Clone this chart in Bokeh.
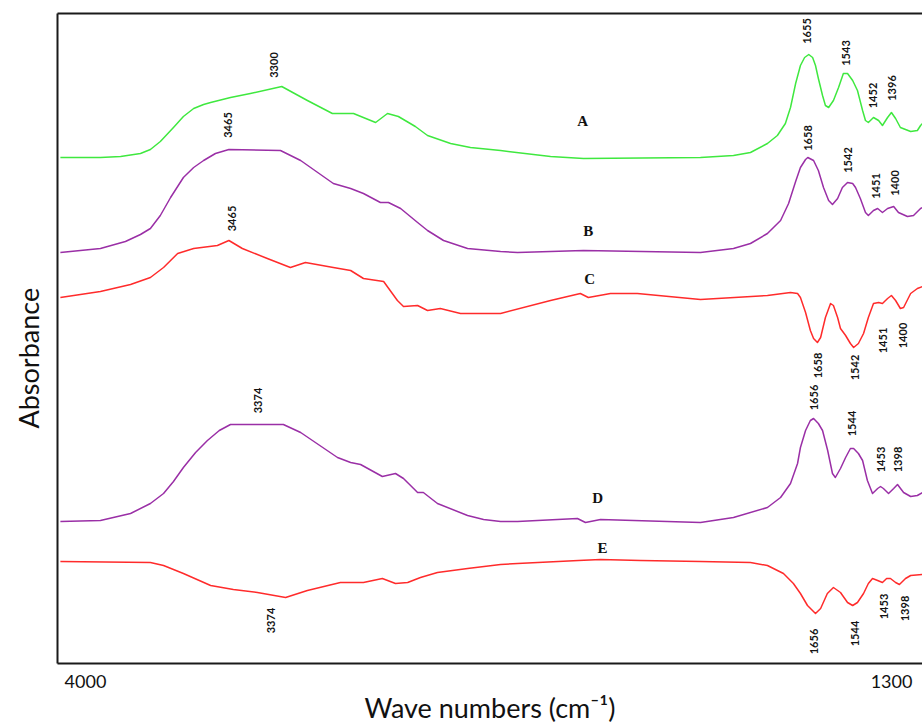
from bokeh.plotting import figure
from bokeh.models import Range1d, FixedTicker, LinearAxis, ColumnDataSource, Title
from bokeh.core.properties import value
from bokeh.embed import file_html
from bokeh.resources import INLINE
import math

# ---------------- data (wavenumber cm-1, absorbance offset, arbitrary units) -------------
A_wn = [3991, 3866, 3803, 3741, 3710, 3679, 3638, 3607, 3575, 3544, 3522, 3460, 3398, 3300,
        3220, 3142, 3076, 3007, 2970, 2936, 2883, 2845, 2773, 2711, 2617, 2461, 2358, 1993,
        1890, 1837, 1784, 1753, 1728, 1712, 1696, 1681, 1668, 1655, 1643, 1634, 1625, 1612,
        1603, 1593, 1578, 1562, 1547, 1534, 1518, 1503, 1487, 1478, 1469, 1453, 1437, 1425,
        1409, 1397, 1384, 1369, 1337, 1316, 1306, 1300]
A_abs = [5.06, 5.06, 5.07, 5.10, 5.14, 5.22, 5.36, 5.47, 5.55, 5.59, 5.61, 5.66, 5.70, 5.77,
         5.63, 5.50, 5.50, 5.41, 5.50, 5.47, 5.37, 5.28, 5.20, 5.16, 5.13, 5.07, 5.05, 5.06,
         5.08, 5.11, 5.20, 5.28, 5.40, 5.56, 5.80, 5.98, 6.06, 6.09, 6.06, 5.98, 5.85, 5.68,
         5.58, 5.56, 5.63, 5.76, 5.90, 5.90, 5.83, 5.73, 5.53, 5.43, 5.41, 5.46, 5.43, 5.38,
         5.46, 5.51, 5.45, 5.36, 5.32, 5.33, 5.38, 5.40]

B_wn = [3991, 3866, 3788, 3741, 3710, 3679, 3647, 3607, 3575, 3544, 3507, 3465, 3304, 3241,
        3139, 3085, 3045, 2992, 2967, 2929, 2876, 2845, 2795, 2720, 2617, 2564, 2358, 1993,
        1890, 1837, 1784, 1743, 1718, 1696, 1681, 1665, 1658, 1640, 1625, 1609, 1593, 1581,
        1565, 1550, 1534, 1518, 1509, 1494, 1478, 1469, 1453, 1440, 1425, 1409, 1390, 1375,
        1347, 1328, 1306, 1300]
B_abs = [4.11, 4.15, 4.22, 4.29, 4.35, 4.48, 4.66, 4.86, 4.96, 5.03, 5.10, 5.14, 5.13, 5.03,
         4.80, 4.75, 4.70, 4.61, 4.61, 4.55, 4.41, 4.33, 4.23, 4.15, 4.12, 4.11, 4.13, 4.11,
         4.15, 4.20, 4.30, 4.43, 4.60, 4.82, 4.96, 5.04, 5.06, 5.03, 4.93, 4.76, 4.63, 4.59,
         4.65, 4.76, 4.81, 4.80, 4.76, 4.65, 4.51, 4.48, 4.53, 4.55, 4.51, 4.55, 4.57, 4.51,
         4.47, 4.48, 4.55, 4.56]

C_wn = [3991, 3866, 3772, 3710, 3669, 3625, 3575, 3501, 3465, 3423, 3345, 3273, 3226, 3139,
        3085, 3045, 2982, 2939, 2920, 2876, 2845, 2805, 2742, 2617, 2461, 2368, 2343, 2274,
        2190, 1993, 1784, 1712, 1690, 1681, 1665, 1650, 1640, 1628, 1618, 1603, 1587, 1578,
        1565, 1556, 1540, 1525, 1515, 1500, 1484, 1469, 1453, 1437, 1425, 1409, 1397, 1384,
        1369, 1359, 1337, 1316, 1300]
C_abs = [3.66, 3.72, 3.79, 3.86, 3.96, 4.10, 4.15, 4.18, 4.23, 4.15, 4.05, 3.96, 4.01, 3.96,
         3.93, 3.85, 3.82, 3.63, 3.57, 3.58, 3.53, 3.55, 3.50, 3.50, 3.63, 3.70, 3.66, 3.70,
         3.70, 3.64, 3.68, 3.71, 3.70, 3.66, 3.51, 3.33, 3.25, 3.21, 3.26, 3.46, 3.60, 3.58,
         3.46, 3.35, 3.28, 3.20, 3.16, 3.20, 3.30, 3.46, 3.60, 3.61, 3.60, 3.65, 3.68, 3.63,
         3.55, 3.56, 3.70, 3.75, 3.77]

D_wn = [3991, 3866, 3772, 3710, 3669, 3638, 3607, 3569, 3532, 3495, 3460, 3295, 3241, 3126,
        3085, 3054, 2986, 2945, 2920, 2876, 2858, 2814, 2720, 2670, 2617, 2564, 2377, 2352,
        2305, 1993, 1890, 1784, 1743, 1712, 1690, 1681, 1665, 1650, 1640, 1625, 1612, 1596,
        1581, 1572, 1556, 1540, 1525, 1515, 1500, 1487, 1472, 1456, 1440, 1431, 1422, 1406,
        1390, 1378, 1359, 1337, 1316, 1300]
D_abs = [1.42, 1.43, 1.50, 1.60, 1.70, 1.82, 1.96, 2.11, 2.23, 2.33, 2.39, 2.39, 2.31, 2.06,
         2.01, 1.99, 1.87, 1.90, 1.85, 1.71, 1.71, 1.60, 1.48, 1.44, 1.42, 1.42, 1.45, 1.41,
         1.44, 1.41, 1.46, 1.56, 1.66, 1.80, 2.00, 2.16, 2.33, 2.43, 2.45, 2.40, 2.33, 2.13,
         1.90, 1.86, 1.95, 2.06, 2.15, 2.15, 2.10, 2.03, 1.83, 1.70, 1.75, 1.77, 1.75, 1.70,
         1.75, 1.79, 1.71, 1.67, 1.68, 1.71]

E_wn = [3991, 3710, 3669, 3607, 3522, 3451, 3376, 3288, 3220, 3117, 3045, 2986, 2945, 2907,
        2867, 2814, 2720, 2617, 2564, 2374, 2305, 2180, 1993, 1837, 1784, 1734, 1703, 1681,
        1659, 1634, 1618, 1597, 1578, 1556, 1534, 1518, 1503, 1484, 1469, 1456, 1440, 1425,
        1412, 1400, 1384, 1372, 1353, 1337, 1300]
E_abs = [1.02, 1.01, 0.98, 0.90, 0.78, 0.74, 0.71, 0.66, 0.73, 0.81, 0.81, 0.85, 0.80, 0.81,
         0.86, 0.91, 0.95, 0.99, 1.00, 1.03, 1.04, 1.03, 1.02, 1.01, 0.98, 0.90, 0.80, 0.70,
         0.58, 0.50, 0.55, 0.70, 0.76, 0.71, 0.61, 0.58, 0.61, 0.70, 0.80, 0.85, 0.83, 0.81,
         0.85, 0.85, 0.81, 0.79, 0.85, 0.88, 0.89]

# peak annotations: text, position (wavenumber, absorbance)
A_peak_text = ["3300", "1655", "1543", "1452", "1396"]
A_peak_x = [3323, 1662, 1540, 1456, 1394]
A_peak_y = [5.985, 6.325, 6.105, 5.68, 5.755]

B_peak_text = ["3465", "1658", "1542", "1451", "1400"]
B_peak_x = [3469, 1656, 1531, 1444, 1387]
B_peak_y = [5.385, 5.255, 5.035, 4.775, 4.805]

C_peak_text = ["3465", "1658", "1542", "1451", "1400"]
C_peak_x = [3454, 1625, 1512, 1422, 1362]
C_peak_y = [4.45, 2.98, 2.96, 3.23, 3.28]

D_peak_text = ["3374", "1656", "1544", "1453", "1398"]
D_peak_x = [3373, 1640, 1519, 1431, 1378]
D_peak_y = [2.63, 2.66, 2.40, 2.04, 2.04]

E_peak_text = ["3374", "1656", "1544", "1453", "1398"]
E_peak_x = [3335, 1640, 1512, 1419, 1356]
E_peak_y = [0.43, 0.22, 0.30, 0.57, 0.55]

curve_names = ["A", "B", "C", "D", "E"]
name_x = [2361, 2343, 2339, 2314, 2299]
name_y = [5.43, 4.33, 3.85, 1.66, 1.16]

tick_values = [4000, 1300]
tick_labels = {4000: "4000", 1300: "1300"}

# ---------------- figure ----------------
GREEN = "#3fe83f"
PURPLE = "#9a2fa6"
RED = "#ff2b2b"
INK = "#1a1a1a"

p = figure(width=922, height=728, x_range=Range1d(4000, 1300), y_range=Range1d(0, 6.5),
           output_backend="svg", toolbar_location=None, x_axis_location=None,
           min_border_left=57, min_border_right=0, min_border_top=13, min_border_bottom=65)
p.outline_line_color = None
p.grid.visible = False
p.background_fill_color = "white"
p.border_fill_color = "white"

# left border (no ticks)
ya = p.yaxis[0]
ya.ticker = FixedTicker(ticks=[])
ya.axis_line_width = 2
ya.axis_line_color = INK
ya.major_tick_line_color = None
ya.minor_tick_line_color = None

# y title
p.add_layout(Title(text="Absorbance", align="left", offset=235, standoff=21,
                   vertical_align="top",
                   text_font="Lato", text_font_style="normal", text_font_size="27px",
                   text_color="#111111"), "left")

# bottom axis: the end labels of the wavenumber scale sit slightly inside the frame
p.extra_x_ranges = {"ends": Range1d(4093.8, 1196.2)}
xa = LinearAxis(x_range_name="ends", ticker=FixedTicker(ticks=tick_values),
                major_label_overrides=tick_labels,
                axis_line_width=2, axis_line_color=INK,
                major_tick_line_color=None, minor_tick_line_color=None,
                major_tick_in=0, major_tick_out=0, major_label_standoff=11,
                major_label_text_font="Lato", major_label_text_font_size="18px",
                major_label_text_color="#111111",
                axis_label="Wave numbers (cm\u207b\u00b9)", axis_label_standoff=0,
                axis_label_text_font="Lato", axis_label_text_font_style="normal",
                axis_label_text_font_size="27px", axis_label_text_color="#111111")
p.add_layout(xa, "below")

# top border
top_axis = LinearAxis(ticker=FixedTicker(ticks=[]), axis_line_width=2, axis_line_color=INK,
                      major_tick_line_color=None, minor_tick_line_color=None,
                      major_label_text_font_size="0px")
p.add_layout(top_axis, "above")

# curves
for xs, ys, col in [(A_wn, A_abs, GREEN), (B_wn, B_abs, PURPLE), (C_wn, C_abs, RED),
                    (D_wn, D_abs, PURPLE), (E_wn, E_abs, RED)]:
    p.line(xs, ys, line_color=col, line_width=1.5, line_join="round")

# peak labels
for tx, xs, ys in [(A_peak_text, A_peak_x, A_peak_y), (B_peak_text, B_peak_x, B_peak_y),
                   (C_peak_text, C_peak_x, C_peak_y), (D_peak_text, D_peak_x, D_peak_y),
                   (E_peak_text, E_peak_x, E_peak_y)]:
    src = ColumnDataSource(dict(x=xs, y=ys, t=tx))
    p.text(x="x", y="y", text="t", source=src, angle=math.pi / 2,
           text_align="center", text_baseline="middle",
           text_font=value("Lato"), text_font_style="bold", text_font_size="11px",
           text_color="#141414")

# curve names
p.text(x=name_x, y=name_y, text=curve_names, text_align="center", text_baseline="middle",
       text_font=value("Liberation Serif"), text_font_style="bold", text_font_size="15px",
       text_color="#111111")

open("out.html", "w").write(file_html(p, INLINE))
